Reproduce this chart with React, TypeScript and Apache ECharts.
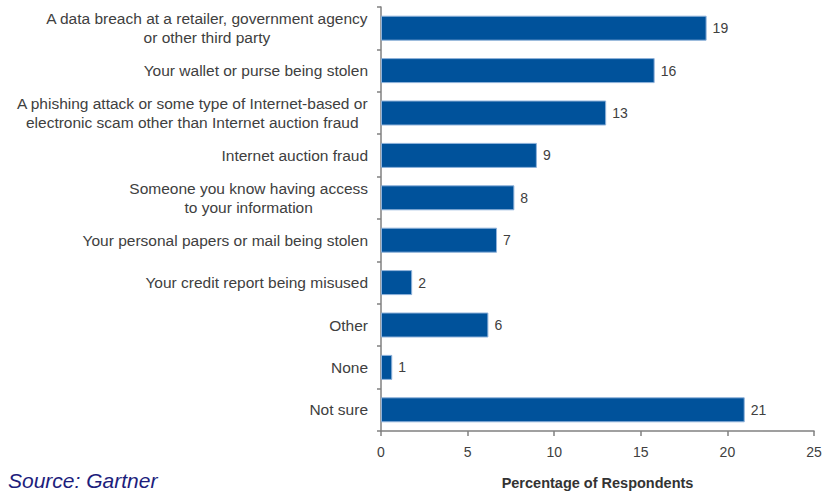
import React, { useEffect, useRef } from "react";
import * as echarts from "echarts";

const categories = [
  "A data breach at a retailer, government agency\nor other third party",
  "Your wallet or purse being stolen",
  "A phishing attack or some type of Internet-based or\nelectronic scam other than Internet auction fraud",
  "Internet auction fraud",
  "Someone you know having access\nto your information",
  "Your personal papers or mail being stolen",
  "Your credit report being misused",
  "Other",
  "None",
  "Not sure",
];
const barValues = [18.8, 15.8, 13.0, 9.0, 7.7, 6.7, 1.8, 6.2, 0.65, 21.0];
const valueLabels = ["19", "16", "13", "9", "8", "7", "2", "6", "1", "21"];
const xTicks = { min: 0, max: 25, interval: 5 };
const axisTitle = "Percentage of Respondents";
const sourceText = "Source: Gartner";

export default function App() {
  const ref = useRef<HTMLDivElement>(null);
  useEffect(() => {
    document.body.style.margin = "0";
    const chart = echarts.init(ref.current!, null, { renderer: "svg" });
    const font = "Arial, 'Liberation Sans', sans-serif";
    chart.setOption({
      animation: false,
      textStyle: { fontFamily: font },
      grid: { left: 381, right: 11, top: 7, bottom: 63, containLabel: false },
      xAxis: {
        type: "value",
        min: xTicks.min,
        max: xTicks.max,
        interval: xTicks.interval,
        splitLine: { show: false },
        axisLine: { show: true, lineStyle: { color: "#808080", width: 1.5 } },
        axisTick: { show: true, length: 5, lineStyle: { color: "#808080", width: 1.5 } },
        axisLabel: { color: "#404040", fontSize: 14, margin: 14, fontFamily: font },
        name: axisTitle,
        nameLocation: "middle",
        nameGap: 44,
        nameTextStyle: { color: "#333", fontSize: 14.5, fontWeight: "bold", fontFamily: font },
      },
      yAxis: {
        type: "category",
        data: categories,
        inverse: true,
        axisLine: { show: true, lineStyle: { color: "#808080", width: 1.5 } },
        axisTick: { show: true, length: 4, lineStyle: { color: "#808080", width: 1.5 } },
        axisLabel: {
          margin: 13,
          interval: 0,
          align: "right",
          formatter: (v: string) =>
            v
              .split("\n")
              .map((l) => `{c|${l}}`)
              .join("\n"),
          rich: {
            c: {
              align: "center",
              fontSize: 15.5,
              lineHeight: 19,
              color: "#404040",
              fontFamily: font,
            },
          },
        },
      },
      graphic: [
        {
          type: "text",
          left: 8,
          top: 470,
          style: {
            text: sourceText,
            fontSize: 21,
            fontStyle: "italic",
            fill: "#1d1d7c",
            fontFamily: font,
          },
        },
      ],
      series: [
        {
          type: "bar",
          data: barValues,
          barWidth: 25,
          itemStyle: { color: "#00529b", borderColor: "#8fb2da", borderWidth: 1 },
          label: {
            show: true,
            position: "right",
            distance: 6,
            color: "#404040",
            fontSize: 14,
            fontFamily: font,
            formatter: (p: any) => valueLabels[p.dataIndex],
          },
        },
      ],
    });
    return () => chart.dispose();
  }, []);
  return <div ref={ref} style={{ width: 825, height: 495 }} />;
}
